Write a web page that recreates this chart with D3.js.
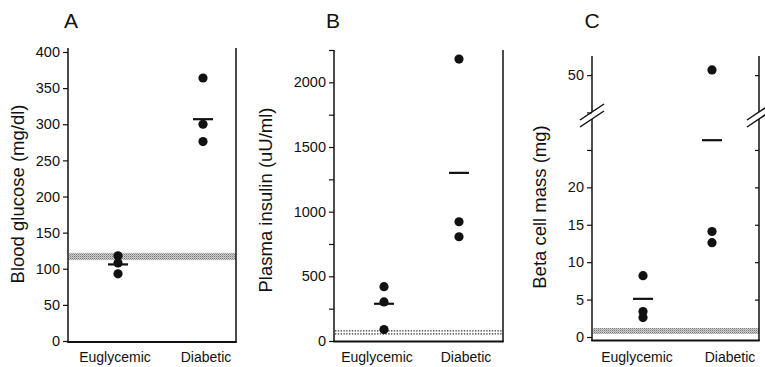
<!DOCTYPE html>
<meta charset="utf-8">
<script src="https://cdn.jsdelivr.net/npm/d3@7"></script>
<style>
  body { margin: 0; background: #fff; }
  text { font-family: "Liberation Sans", Arial, Helvetica, sans-serif; fill: #111; }
</style>
<div id="chart"></div>
<script>
  // values
  const categories = ["Euglycemic", "Diabetic"];

  // A - blood glucose (mg/dl)
  const glucoseEugly = [118, 108, 93];
  const glucoseDiab = [364, 300, 276];
  const glucoseMeans = [106, 307];
  const glucoseNormal = [112, 122];
  const glucoseTicks = [0, 50, 100, 150, 200, 250, 300, 350, 400];

  // B - plasma insulin (uU/ml)
  const insulinEugly = [420, 302, 88];
  const insulinDiab = [2180, 922, 806];
  const insulinMeans = [288, 1300];
  const insulinNormal = [55, 78];
  const insulinTicks = [0, 500, 1000, 1500, 2000];
  const insulinMinor = [250, 750, 1250, 1750, 2250];

  // C - beta cell mass (mg), broken axis
  const massEugly = [8.2, 3.4, 2.6];
  const massDiab = [50.7, 14.1, 12.6];
  const massMeans = [5.1, 26.3];
  const massNormal = [0.4, 1.2];
  const massTicks = [0, 5, 10, 15, 20];
  const massMinor = [25];
  const massUpperTicks = [50];
  const massUpperMinor = [45];

  var svg = d3.select("#chart").append("svg")
    .attr("width", 765).attr("height", 367);

  // stipple pattern for the normal range bands
  var defs = svg.append("defs");
  var pat = defs.append("pattern")
    .attr("id", "stipple").attr("patternUnits", "userSpaceOnUse")
    .attr("width", 2).attr("height", 2);
  pat.append("rect").attr("width", 2).attr("height", 2).attr("fill", "#cfcfcf");
  pat.append("rect").attr("width", 1).attr("height", 1).attr("fill", "#7a7a7a");
  pat.append("rect").attr("x", 1).attr("y", 1).attr("width", 1).attr("height", 1).attr("fill", "#a5a5a5");

  function vline(x, y0, y1, w) {
    svg.append("line").attr("x1", x).attr("x2", x).attr("y1", y0).attr("y2", y1)
      .attr("stroke", "#111").attr("stroke-width", w || 1.5);
  }
  function hline(x0, x1, y, w) {
    svg.append("line").attr("x1", x0).attr("x2", x1).attr("y1", y).attr("y2", y)
      .attr("stroke", "#111").attr("stroke-width", w || 2);
  }

  function leftTicks(x, scale, values, labelled) {
    var g = svg.append("g").attr("transform", "translate(" + x + ",0)")
      .call(d3.axisLeft(scale).tickValues(values).tickSize(5).tickPadding(3)
        .tickFormat(labelled ? d3.format("d") : ""));
    g.select(".domain").remove();
    g.selectAll("line").attr("stroke", "#111").attr("stroke-width", 1.2);
    g.selectAll("text").style("font-size", "14.5px").attr("fill", "#111");
  }
  function rightTicks(x, scale, values) {
    var g = svg.append("g").attr("transform", "translate(" + x + ",0)")
      .call(d3.axisLeft(scale).tickValues(values).tickSize(4).tickFormat(""));
    g.select(".domain").remove();
    g.selectAll("line").attr("x2", 0).attr("x1", -4).attr("stroke", "#111").attr("stroke-width", 1.2);
  }

  function points(xPos, yScale, values, cat) {
    svg.append("g").selectAll("circle")
      .data(values).enter().append("circle")
      .attr("cx", xPos(cat))
      .attr("cy", function(d) { return yScale(d); })
      .attr("r", 4.6)
      .attr("fill", "#111");
  }
  function meanBar(xPos, yScale, value, cat) {
    svg.append("line")
      .attr("x1", xPos(cat) - 10).attr("x2", xPos(cat) + 10)
      .attr("y1", yScale(value)).attr("y2", yScale(value))
      .attr("stroke", "#111").attr("stroke-width", 2.2);
  }
  function catLabels(xLab, y) {
    svg.append("g").selectAll("text").data(categories).enter().append("text")
      .attr("x", function(d) { return xLab(d); }).attr("y", y)
      .attr("text-anchor", "middle").style("font-size", "14px")
      .text(function(d) { return d; });
  }
  function title(x, y, txt) {
    svg.append("text").attr("transform", "translate(" + x + "," + y + ")rotate(-90)")
      .attr("text-anchor", "middle").style("font-size", "18.5px").text(txt);
  }
  function letter(x, txt) {
    svg.append("text").attr("x", x).attr("y", 28).attr("text-anchor", "middle")
      .style("font-size", "21px").text(txt);
  }

  // ---------- Panel A ----------
  var xA = d3.scalePoint().domain(categories).range([118, 203]);
  var labA = d3.scalePoint().domain(categories).range([115, 206]);
  var yA = d3.scaleLinear().domain([0, 400]).range([341, 52]);

  svg.append("rect").attr("x", 69).attr("width", 236 - 69)
    .attr("y", yA(glucoseNormal[1])).attr("height", yA(glucoseNormal[0]) - yA(glucoseNormal[1]))
    .attr("fill", "url(#stipple)");
  vline(68, 48, 342.5);
  vline(236, 48, 342.5);
  hline(67.3, 236.7, 342);
  leftTicks(68, yA, glucoseTicks, true);
  points(xA, yA, glucoseEugly, "Euglycemic");
  points(xA, yA, glucoseDiab, "Diabetic");
  meanBar(xA, yA, glucoseMeans[0], "Euglycemic");
  meanBar(xA, yA, glucoseMeans[1], "Diabetic");
  catLabels(labA, 362);
  title(24, 194, "Blood glucose (mg/dl)");
  letter(71, "A");

  // ---------- Panel B ----------
  var xB = d3.scalePoint().domain(categories).range([384, 459]);
  var labB = d3.scalePoint().domain(categories).range([377, 466]);
  var yB = d3.scaleLinear().domain([0, 2250]).range([341, 50]);

  insulinNormal.forEach(function(v) {
    svg.append("line").attr("x1", 335).attr("x2", 502)
      .attr("y1", yB(v)).attr("y2", yB(v))
      .attr("stroke", "#333").attr("stroke-width", 1.3).attr("stroke-dasharray", "1.4,1.4");
  });
  vline(334, 50, 342);
  vline(503, 50, 342);
  hline(333.3, 503.7, 341.5);
  leftTicks(334, yB, insulinTicks, true);
  leftTicks(334, yB, insulinMinor, false);
  points(xB, yB, insulinEugly, "Euglycemic");
  points(xB, yB, insulinDiab, "Diabetic");
  meanBar(xB, yB, insulinMeans[0], "Euglycemic");
  meanBar(xB, yB, insulinMeans[1], "Diabetic");
  catLabels(labB, 362);
  title(272, 200, "Plasma insulin (uU/ml)");
  letter(333, "B");

  // ---------- Panel C (broken axis) ----------
  var xC = d3.scalePoint().domain(categories).range([643, 712]);
  var labC = d3.scalePoint().domain(categories).range([637, 730]);
  var yC = d3.scaleLinear().domain([-0.4, 29]).range([340, 120]);
  var yCup = d3.scaleLinear().domain([45, 52.3]).range([112.4, 58]);
  function yMass(v) { return v > 40 ? yCup(v) : yC(v); }

  svg.append("rect").attr("x", 593).attr("width", 759 - 593)
    .attr("y", yC(massNormal[1])).attr("height", yC(massNormal[0]) - yC(massNormal[1]))
    .attr("fill", "url(#stipple)");
  [592, 759].forEach(function(x) {
    vline(x, 56, 112);
    vline(x, 119, 341);
    // break marks
    [112, 119].forEach(function(y) {
      svg.append("line").attr("x1", x - 12).attr("y1", y + 8)
        .attr("x2", x + 12).attr("y2", y - 8)
        .attr("stroke", "#111").attr("stroke-width", 1.5);
    });
  });
  hline(591.3, 759.7, 340.5);
  leftTicks(592, yC, massTicks, true);
  leftTicks(592, yC, massMinor, false);
  leftTicks(592, yCup, massUpperTicks, true);
  leftTicks(592, yCup, massUpperMinor, false);
  rightTicks(759, yC, massTicks.slice(1).concat(massMinor));
  rightTicks(759, yCup, massUpperTicks);
  points(xC, yMass, massEugly, "Euglycemic");
  points(xC, yMass, massDiab, "Diabetic");
  meanBar(xC, yMass, massMeans[0], "Euglycemic");
  meanBar(xC, yMass, massMeans[1], "Diabetic");
  catLabels(labC, 362);
  title(546, 207, "Beta cell mass (mg)");
  letter(592, "C");
</script>
